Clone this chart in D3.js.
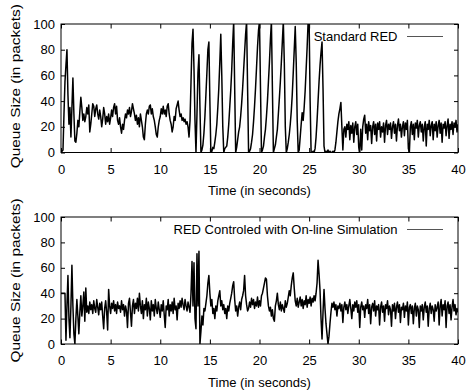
<!DOCTYPE html>
<html>
<head>
<meta charset="utf-8">
<script src="https://cdn.jsdelivr.net/npm/d3@7"></script>
<style>
  body { margin: 0; background: #fff; }
  svg { display: block; font-family: "Liberation Sans", Arial, Helvetica, sans-serif; }
</style>
</head>
<body>
<svg width="468" height="392"></svg>
<script>
// Both traces are sampled every 0.1 s from 0 to 40 s.
const step = 0.1;
const xTicks = [0, 5, 10, 15, 20, 25, 30, 35, 40];
const yTicks = [0, 20, 40, 60, 80, 100];
const seriesNames = ["Standard RED", "RED Controled with On-line Simulation"];

// queue size (packets), one row per second
const standardRed = [
  0, 1, 2, 30, 55, 68, 80, 45, 22, 35,
  12, 35, 58, 30, 9, 8, 15, 25, 20, 32,
  43, 35, 25, 30, 24, 28, 35, 30, 37, 16,
  22, 30, 38, 36, 28, 34, 37, 30, 26, 33,
  28, 20, 26, 35, 30, 22, 28, 24, 30, 22,
  27, 33, 28, 35, 38, 30, 36, 25, 22, 27,
  20, 15, 22, 18, 25, 30, 27, 33, 30, 35,
  28, 32, 38, 34, 30, 25, 29, 22, 27, 20,
  30, 25, 20, 12, 10, 22, 30, 33, 30, 36,
  37, 30, 34, 28, 25, 20, 14, 12, 20, 25,
  28, 34, 30, 36, 30, 33, 28, 36, 38, 30,
  25, 22, 16, 20, 28, 25, 34, 37, 40, 33,
  28, 30, 25, 27, 24, 26, 22, 24, 20, 12,
  25, 55, 85, 96, 65, 25, 0, 30, 62, 76,
  35, 0, 2, 6, 15, 28, 45, 62, 80, 86,
  40, 0, 1, 4, 3, 8, 14, 22, 35, 50,
  70, 92, 60, 20, 0, 3, 4, 5, 12, 22,
  35, 48, 64, 85, 102, 50, 0, 4, 10, 16,
  20, 28, 38, 50, 64, 78, 92, 102, 50, 0,
  1, 3, 8, 14, 24, 36, 50, 66, 82, 95,
  102, 50, 0, 2, 5, 12, 18, 28, 40, 55,
  70, 88, 102, 50, 0, 3, 6, 12, 18, 30,
  42, 55, 70, 86, 102, 70, 20, 0, 3, 8,
  14, 22, 32, 45, 62, 80, 98, 70, 25, 0,
  2, 12, 22, 31, 25, 35, 48, 65, 82, 102,
  102, 40, 0, 0, 1, 0, 3, 12, 25, 40,
  55, 68, 78, 86, 50, 5, 0, 1, 0, 2,
  0, 1, 0, 0, 1, 0, 2, 8, 16, 24,
  30, 34, 39, 20, 2, 18, 20, 12, 22, 18,
  24, 10, 21, 15, 23, 8, 20, 24, 14, 22,
  4, 0, 18, 2, 20, 26, 29, 15, 22, 10,
  24, 17, 21, 7, 20, 24, 14, 22, 9, 23,
  18, 24, 12, 20, 16, 23, 8, 21, 25, 14,
  22, 18, 23, 11, 20, 24, 15, 22, 9, 21,
  26, 17, 22, 12, 20, 24, 13, 23, 18, 25,
  3, 0, 20, 24, 14, 22, 10, 23, 19, 25,
  12, 21, 24, 16, 22, 9, 20, 24, 5, 22,
  18, 25, 13, 21, 24, 10, 22, 17, 24, 12,
  21, 25, 15, 23, 8, 22, 19, 24, 13, 21,
  26, 11, 22, 18, 24, 14, 23, 20, 25, 16,
  22
];

const onlineRed = [
  40, 40, 40, 40, 40, 3, 30, 54, 20, 5,
  30, 62, 30, 8, 0, 20, 35, 22, 8, 25,
  38, 22, 30, 41, 18, 44, 25, 30, 24, 33,
  27, 31, 24, 34, 28, 25, 35, 29, 23, 32,
  27, 33, 22, 12, 28, 34, 25, 11, 43, 30,
  24, 32, 28, 34, 26, 31, 24, 33, 28, 30,
  25, 34, 27, 31, 22, 30, 26, 13, 32, 36,
  25, 14, 30, 35, 24, 32, 28, 36, 26, 40,
  30, 24, 34, 20, 31, 27, 36, 22, 33, 28,
  19, 34, 26, 31, 22, 35, 28, 24, 33, 27,
  21, 31, 26, 34, 23, 13, 30, 27, 35, 22,
  31, 26, 33, 24, 36, 27, 30, 19, 32, 28,
  34, 29, 36, 31, 27, 35, 30, 26, 33, 29,
  25, 40, 65, 30, 64, 20, 12, 71, 30, 73,
  0, 10, 22, 15, 28, 26, 32, 38, 48, 54,
  40, 30, 35, 24, 28, 20, 30, 26, 34, 38,
  42, 30, 34, 27, 31, 24, 28, 20, 30, 26,
  32, 36, 40, 46, 49, 35, 26, 30, 22, 29,
  33, 27, 35, 38, 42, 54, 38, 31, 26, 28,
  33, 29, 36, 31, 35, 28, 33, 30, 37, 29,
  34, 30, 38, 40, 44, 48, 52, 51, 38, 30,
  26, 29, 22, 27, 20, 18, 30, 34, 40, 31,
  27, 33, 26, 31, 28, 25, 34, 29, 32, 37,
  42, 38, 46, 52, 56, 44, 34, 30, 36, 29,
  33, 37, 30, 35, 28, 34, 31, 38, 29, 35,
  32, 37, 30, 36, 33, 38, 34, 40, 48, 66,
  55, 42, 20, 4, 25, 43, 28, 16, 8, 0,
  6, 16, 25, 32, 29, 33, 27, 31, 22, 30,
  28, 32, 26, 31, 17, 29, 33, 27, 31, 24,
  30, 35, 28, 20, 31, 26, 33, 29, 34, 25,
  31, 13, 29, 33, 27, 30, 21, 31, 28, 35,
  24, 31, 16, 29, 32, 26, 34, 22, 30, 27,
  31, 15, 29, 33, 25, 30, 18, 31, 28, 34,
  23, 30, 27, 14, 31, 26, 32, 20, 29, 33,
  25, 31, 17, 29, 27, 32, 21, 30, 26, 33,
  15, 29, 31, 24, 30, 16, 28, 32, 22, 30,
  27, 13, 30, 26, 31, 19, 29, 33, 25, 30,
  14, 28, 32, 24, 30, 27, 18, 31, 26, 29,
  33, 15, 30, 35, 22, 31, 27, 34, 13, 30,
  33, 24, 31, 19, 29, 35, 26, 31, 23, 28,
  25
];

const svg = d3.select("svg");
const left = 61;
const right = 458;
const fontSize = 13;

const panels = [
  { top: 24, bottom: 152.5, values: standardRed, name: seriesNames[0] },
  { top: 217, bottom: 344, values: onlineRed, name: seriesNames[1] },
];

panels.forEach((p, k) => {
  const x = d3.scaleLinear().domain([0, 40]).range([left, right]);
  const y = d3.scaleLinear().domain([0, 100]).range([p.bottom, p.top]);

  const g = svg.append("g");

  // clip the trace to the frame (peaks go past 100)
  g.append("clipPath")
    .attr("id", "clip" + k)
    .append("rect")
    .attr("x", left)
    .attr("y", p.top)
    .attr("width", right - left)
    .attr("height", p.bottom - p.top);

  const line = d3
    .line()
    .x((d, i) => x(i * step))
    .y((d) => y(d));

  g.append("path")
    .datum(p.values)
    .attr("clip-path", `url(#clip${k})`)
    .attr("fill", "none")
    .attr("stroke", "#000")
    .attr("stroke-width", 1.5)
    .attr("stroke-linejoin", "round")
    .attr("d", line);

  // gnuplot style: inward ticks on all four sides
  const styleAxis = (sel) => {
    sel.attr("font-size", fontSize).attr("font-family", null);
    sel.select(".domain").remove();
    sel.selectAll(".tick line").attr("stroke", "#000");
    sel.selectAll(".tick text").attr("fill", "#000");
  };

  g.append("g")
    .attr("transform", `translate(0,${p.bottom})`)
    .call(d3.axisBottom(x).tickValues(xTicks).tickSize(-4.5).tickPadding(11.8))
    .call(styleAxis);
  g.append("g")
    .attr("transform", `translate(0,${p.top})`)
    .call(d3.axisTop(x).tickValues(xTicks).tickSize(-4.5).tickFormat(""))
    .call(styleAxis);
  g.append("g")
    .attr("transform", `translate(${left},0)`)
    .call(d3.axisLeft(y).tickValues(yTicks).tickSize(-4).tickPadding(6))
    .call(styleAxis);
  g.append("g")
    .attr("transform", `translate(${right},0)`)
    .call(d3.axisRight(y).tickValues(yTicks).tickSize(-4).tickFormat(""))
    .call(styleAxis);

  // frame
  g.append("rect")
    .attr("x", left)
    .attr("y", p.top)
    .attr("width", right - left)
    .attr("height", p.bottom - p.top)
    .attr("fill", "none")
    .attr("stroke", "#000")
    .attr("stroke-width", 1);

  // legend
  g.append("text")
    .attr("x", 397.5)
    .attr("y", p.top + 17)
    .attr("text-anchor", "end")
    .attr("font-size", fontSize)
    .text(p.name);
  g.append("line")
    .attr("x1", 407)
    .attr("x2", 443)
    .attr("y1", p.top + 12.5)
    .attr("y2", p.top + 12.5)
    .attr("stroke", "#555")
    .attr("stroke-width", 1.2);

  // axis titles
  g.append("text")
    .attr("x", (left + right) / 2)
    .attr("y", p.bottom + 42.5)
    .attr("text-anchor", "middle")
    .attr("font-size", fontSize)
    .text("Time (in seconds)");
  g.append("text")
    .attr("transform", `translate(19.5,${(p.top + p.bottom) / 2 - (k === 0 ? 2 : 0)}) rotate(-90)`)
    .attr("text-anchor", "middle")
    .attr("font-size", fontSize)
    .attr("textLength", 164)
    .attr("lengthAdjust", "spacingAndGlyphs")
    .text("Queue Size (in packets)");
});
</script>
</body>
</html>
